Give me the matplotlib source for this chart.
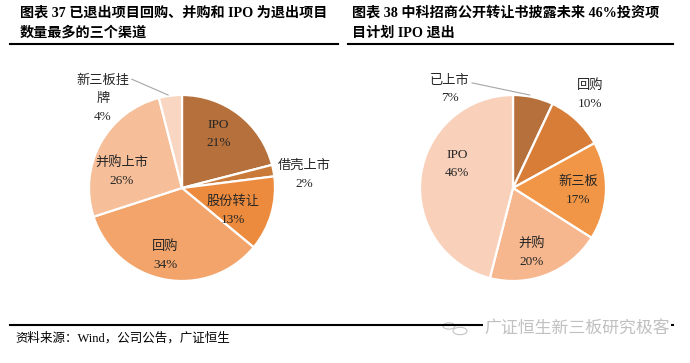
import matplotlib
matplotlib.use('Agg')
import matplotlib.pyplot as plt
from matplotlib.lines import Line2D
from matplotlib.patches import Circle

# fonts: latin in serif, CJK falls back to Noto
FONTS = ['Liberation Serif', 'Noto Sans CJK SC', 'DejaVu Sans']
plt.rcParams['font.family'] = FONTS

# left pie: exit channels of exited projects
left_labels = ['IPO', '借壳上市', '股份转让', '回购', '并购上市', '新三板挂\n牌']
left_values = [21, 2, 13, 34, 26, 4]
left_colors = ['#B5703B', '#C97A38', '#EC8B3E', '#F2A46B', '#F6BF9A', '#F9D6C2']
# label anchors in pie-radius units (relative to centre)
left_label_pos = [(0.39, 0.58), (1.32, 0.14), (0.55, -0.24), (-0.18, -0.73),
                  (-0.65, 0.18), (-0.85, 0.96)]

# right pie: planned exits of portfolio
right_labels = ['已上市', '回购', '新三板', '并购', 'IPO']
right_values = [7, 10, 17, 20, 46]
right_colors = ['#B5703B', '#D77D38', '#F19647', '#F6B68E', '#F9D1BA']
right_label_pos = [(-0.68, 1.06), (0.83, 1.0), (0.70, -0.03), (0.20, -0.69),
                   (-0.60, 0.26)]

W, H = 690, 363
fig = plt.figure(figsize=(W / 100, H / 100), dpi=100)

R_PX = 93  # pie radius in pixels


def draw_pie(cx, cy, labels, values, colors, label_pos, leader):
    size = 300
    ax = fig.add_axes([(cx - size / 2) / W, (H - cy - size / 2) / H, size / W, size / H])
    ax.pie(values, colors=colors, startangle=90, counterclock=False,
           wedgeprops=dict(edgecolor='white', linewidth=1.6))
    lim = size / 2 / R_PX
    ax.set_xlim(-lim, lim)
    ax.set_ylim(-lim, lim)
    ax.set_aspect('equal')
    ax.axis('off')
    for lab, val, (x, y) in zip(labels, values, label_pos):
        ax.text(x, y, f'{lab}\n{val}%', ha='center', va='center', fontsize=9.5,
                color='#262626', linespacing=1.65)
    (x0, y0), (x1, y1) = leader
    ax.add_line(Line2D([x0, x1], [y0, y1], color='#A6A6A6', lw=0.8))
    return ax


draw_pie(182, 188, left_labels, left_values, left_colors, left_label_pos,
         ((-0.54, 1.17), (-0.15, 1.0)))
draw_pie(513, 188, right_labels, right_values, right_colors, right_label_pos,
         ((-0.44, 1.13), (0.18, 1.0)))

# titles
title_kw = dict(fontsize=10.2, fontweight='bold', va='center', ha='left')
fig.text(20 / W, 1 - 13 / H, '图表 37 已退出项目回购、并购和 IPO 为退出项目', **title_kw)
fig.text(20 / W, 1 - 33 / H, '数量最多的三个渠道', **title_kw)
fig.text(352 / W, 1 - 13 / H, '图表 38 中科招商公开转让书披露未来 46%投资项', **title_kw)
fig.text(352 / W, 1 - 33 / H, '目计划 IPO 退出', **title_kw)

# rules
fig.add_artist(Line2D([10 / W, 338 / W], [1 - 44 / H] * 2, color='black', lw=1.5))
fig.add_artist(Line2D([348 / W, 673 / W], [1 - 44 / H] * 2, color='black', lw=1.5))
fig.add_artist(Line2D([10 / W, 673 / W], [1 - 325 / H] * 2, color='black', lw=1.5))

# source note
fig.text(15 / W, 1 - 338 / H, '资料来源：Wind，公司公告，广证恒生', fontsize=9,
         va='center', ha='left')

# watermark
fig.text(670 / W, 1 - 328 / H, '广证恒生新三板研究极客', fontsize=12.2, color='#C0C0C0',
         va='center', ha='right', family=['Noto Sans CJK SC'],
         bbox=dict(facecolor='white', edgecolor='none', pad=1))
for (px, py, pr) in [(449, 326, 6), (460, 331, 7)]:
    fig.add_artist(Circle((px / W, 1 - py / H), pr / W, transform=fig.transFigure,
                          facecolor='white', edgecolor='#C4C4C4', lw=0.8))

fig.savefig('out.png', dpi=100)
